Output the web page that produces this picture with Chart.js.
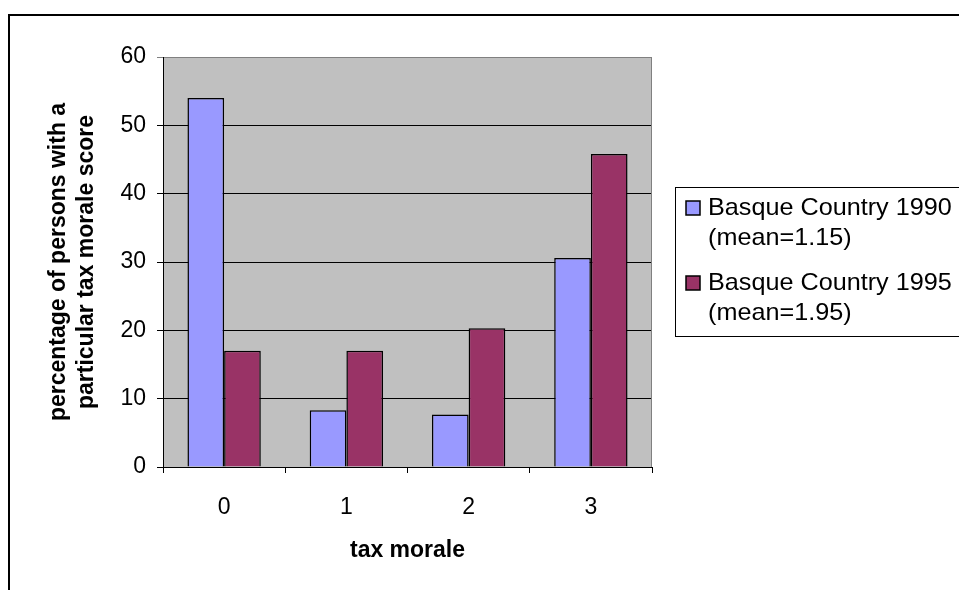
<!DOCTYPE html>
<html>
<head>
<meta charset="utf-8">
<script src="https://cdn.jsdelivr.net/npm/chart.js@4.4.0/dist/chart.umd.min.js"></script>
<style>
  html, body { margin: 0; padding: 0; background: #fff; }
  #wrap { width: 959px; height: 590px; }
</style>
</head>
<body>
<div id="wrap"><canvas id="taxChart" width="959" height="590"></canvas></div>
<script>
// datos
const CATEGORIES = ['0', '1', '2', '3'];
const BASQUE_1990 = [54.0, 8.3, 7.7, 30.6];
const BASQUE_1995 = [17.0, 17.0, 20.3, 45.8];
const LABEL_1990 = ['Basque Country 1990', '(mean=1.15)'];
const LABEL_1995 = ['Basque Country 1995', '(mean=1.95)'];
const Y_MIN = 0;
const Y_MAX = 60;
const Y_STEP = 10;
const Y_TITLE = ['percentage of persons with a', 'particular tax morale score'];
const X_TITLE = 'tax morale';

const FONT = 'Arial, "Liberation Sans", sans-serif';

// fondo gris, marco exterior y leyenda tipo Excel
const marcoPlugin = {
    id: 'marco',
    beforeDraw(chart) {
        const { ctx, chartArea: a } = chart;
        ctx.save();
        ctx.fillStyle = '#fff';
        ctx.fillRect(0, 0, chart.width, chart.height);
        ctx.fillStyle = '#c0c0c0';
        ctx.fillRect(a.left, a.top, a.right - a.left, a.bottom - a.top);
        ctx.restore();
    },
    beforeDatasetsDraw(chart) {
        const { ctx, chartArea: a } = chart;
        ctx.save();
        ctx.strokeStyle = '#808080';
        ctx.lineWidth = 1;
        ctx.beginPath();
        ctx.moveTo(a.right - 0.5, a.top);
        ctx.lineTo(a.right - 0.5, a.bottom);
        ctx.stroke();
        ctx.restore();
    },
    afterDraw(chart) {
        const ctx = chart.ctx;
        ctx.save();
        // marco exterior (se corta por la derecha y abajo)
        ctx.strokeStyle = '#000';
        ctx.lineWidth = 2;
        ctx.strokeRect(9, 15, 1000, 700);

        // caja de leyenda
        ctx.lineWidth = 1;
        ctx.strokeRect(675.5, 187.5, 400, 149);

        const items = chart.data.datasets;
        ctx.font = '24px ' + FONT;
        ctx.textBaseline = 'alphabetic';
        ctx.textAlign = 'left';
        items.forEach((ds, i) => {
            const base = 215 + i * 75;
            ctx.fillStyle = ds.backgroundColor;
            ctx.fillRect(686, base - 14, 14, 14);
            ctx.lineWidth = 1.5;
            ctx.strokeStyle = '#000';
            ctx.strokeRect(686, base - 14, 14, 14);
            ctx.fillStyle = '#000';
            ds.label.forEach((line, j) => {
                ctx.save();
                ctx.translate(708, base + j * 30);
                ctx.scale(1.05, 1);   // el texto original esta algo estirado
                ctx.fillText(line, 0, 0);
                ctx.restore();
            });
        });
        ctx.restore();
    }
};

const ctx = document.getElementById('taxChart').getContext('2d');
new Chart(ctx, {
    type: 'bar',
    data: {
        labels: CATEGORIES,
        datasets: [
            {
                label: LABEL_1990,
                data: BASQUE_1990,
                backgroundColor: '#9999ff',
                borderColor: '#000',
                borderWidth: 1.5,
                categoryPercentage: 0.6,
                barPercentage: 1.0
            },
            {
                label: LABEL_1995,
                data: BASQUE_1995,
                backgroundColor: '#993366',
                borderColor: '#000',
                borderWidth: 1.5,
                categoryPercentage: 0.6,
                barPercentage: 1.0
            }
        ]
    },
    options: {
        responsive: false,
        animation: false,
        layout: { padding: { left: 20, right: 307, top: 57, bottom: 13 } },
        plugins: {
            legend: { display: false },
            tooltip: { enabled: false }
        },
        scales: {
            x: {
                grid: { drawOnChartArea: false, drawTicks: true, tickLength: 6, color: '#000' },
                border: { color: '#000', width: 1 },
                ticks: { color: '#000', padding: 21, font: { family: FONT, size: 23 } },
                title: {
                    display: true,
                    text: X_TITLE,
                    color: '#000',
                    padding: { top: 0, bottom: 13 },
                    font: { family: FONT, size: 23, weight: 'bold' }
                },
                afterFit(scale) {
                    scale.height = 110;
                    scale.paddingLeft = 0;
                    scale.paddingRight = 0;
                }
            },
            y: {
                min: Y_MIN,
                max: Y_MAX,
                ticks: {
                    stepSize: Y_STEP,
                    color: '#000',
                    padding: 11,
                    font: { family: FONT, size: 23 }
                },
                grid: {
                    color: c => (c.tick && c.tick.value === Y_MAX ? '#808080' : '#000'),
                    lineWidth: 1,
                    drawTicks: true,
                    tickLength: 6
                },
                border: { color: '#000', width: 1 },
                title: {
                    display: true,
                    text: Y_TITLE,
                    color: '#000',
                    padding: { top: 25, bottom: 0 },
                    font: { family: FONT, size: 23, weight: 'bold' }
                },
                afterFit(scale) {
                    scale.width = 143;
                    scale.paddingTop = 0;
                    scale.paddingBottom = 0;
                }
            }
        }
    },
    plugins: [marcoPlugin]
});
</script>
</body>
</html>
